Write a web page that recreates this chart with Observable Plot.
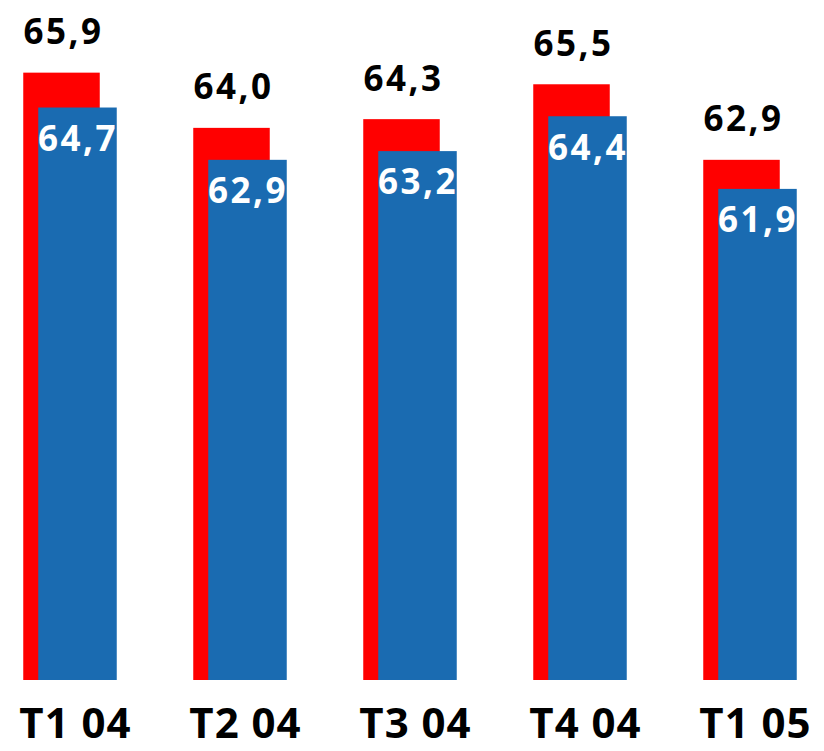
<!DOCTYPE html>
<html>
<head>
<meta charset="utf-8">
<script src="https://cdn.jsdelivr.net/npm/d3@7"></script>
<script src="https://cdn.jsdelivr.net/npm/@observablehq/plot@0.6"></script>
<style>
  html, body { margin: 0; padding: 0; background: #fff; }
  #chart svg { display: block; }
  #chart svg g[aria-label="text"] text { letter-spacing: 2.5px; }
  #chart svg g[aria-label="x-axis tick label"] text { letter-spacing: 1px; }
</style>
</head>
<body>
<div id="chart"></div>
<script>
const quarters = ["T1 04", "T2 04", "T3 04", "T4 04", "T1 05"];
const redValues = [65.9, 64.0, 64.3, 65.5, 62.9];
const blueValues = [64.7, 62.9, 63.2, 64.4, 61.9];

const red = quarters.map((q, i) => ({q, v: redValues[i]}));
const blue = quarters.map((q, i) => ({q, v: blueValues[i]}));
const fmt = v => d3.format(".1f")(v).replace(".", ",");
const font = "'Open Sans', sans-serif";

const chart = Plot.plot({
  width: 824,
  height: 751,
  marginTop: 0,
  marginBottom: 71,
  marginLeft: 0,
  marginRight: 0,
  style: {fontFamily: font, background: "#fff"},
  x: {domain: quarters, range: [74 - 85.25, 756 + 85.25], padding: 0, label: null},
  y: {domain: [45, 68.4], axis: null},
  marks: [
    Plot.barY(red, {x: "q", y1: 45, y2: "v", fill: "#ff0000", insetLeft: 46.75, insetRight: 46.75, dx: -13.5}),
    Plot.barY(blue, {x: "q", y1: 45, y2: "v", fill: "#1a6bb1", insetLeft: 45.75, insetRight: 45.75, dx: 2.5}),
    Plot.text(red, {x: "q", y: "v", text: d => fmt(d.v), dx: -12, dy: -29, lineAnchor: "bottom", fontSize: 35, fontWeight: "bold", fill: "#000"}),
    Plot.text(blue, {x: "q", y: "v", text: d => fmt(d.v), dx: 2.5, dy: 18, lineAnchor: "top", fontSize: 35, fontWeight: "bold", fill: "#fff"}),
    Plot.axisX({tickSize: 0, tickPadding: 28, fontSize: 42, fontWeight: "bold", color: "#000", label: null})
  ]
});
document.getElementById("chart").appendChild(chart);
</script>
</body>
</html>
